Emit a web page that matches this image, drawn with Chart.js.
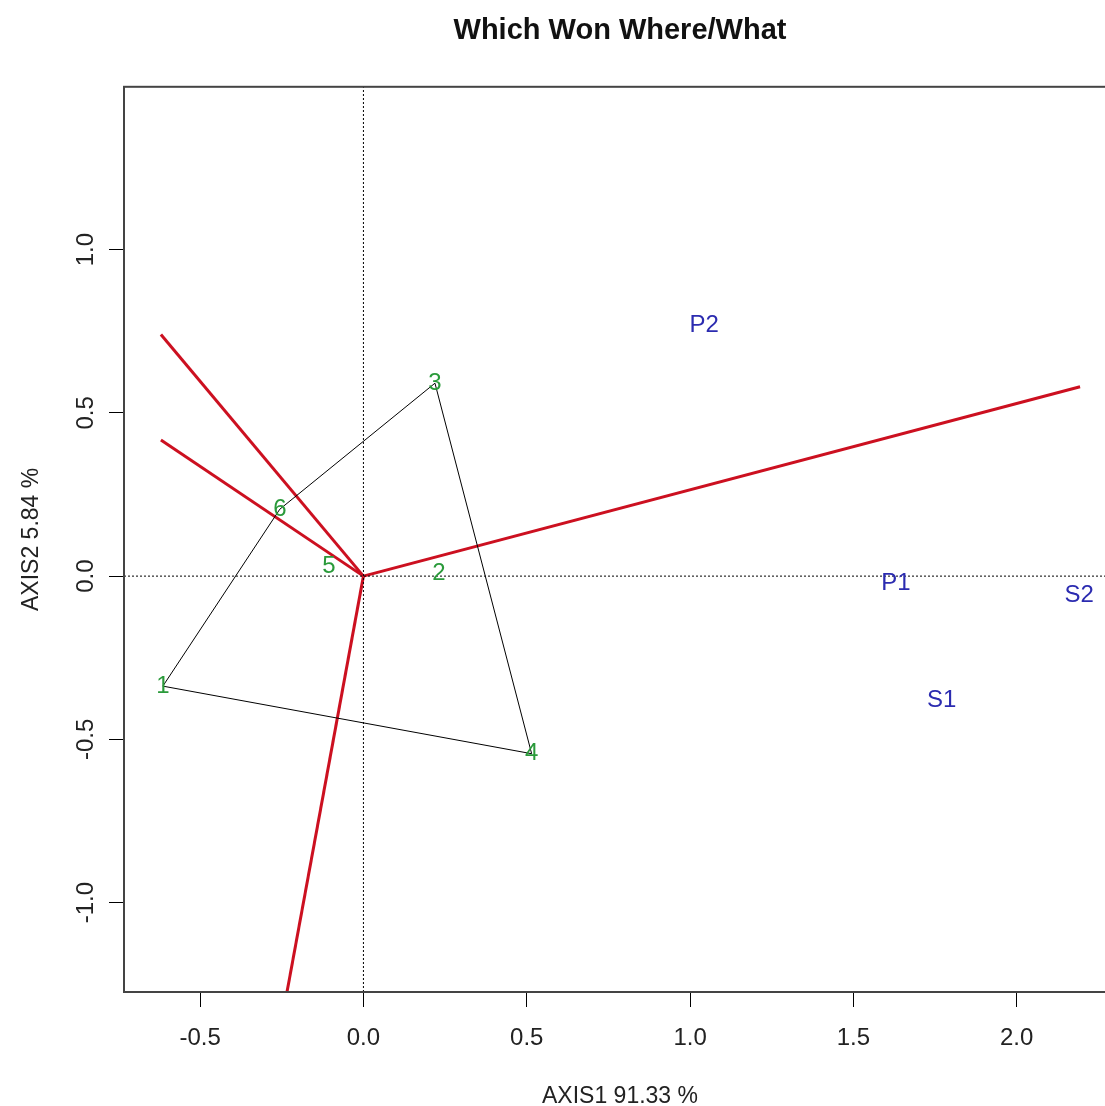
<!DOCTYPE html>
<html>
<head>
<meta charset="utf-8">
<script src="https://cdn.jsdelivr.net/npm/chart.js@4.4.1/dist/chart.umd.min.js"></script>
<style>
  html, body { margin: 0; padding: 0; background: #fff; overflow: hidden; }
</style>
</head>
<body>
<canvas id="biplot" width="1130" height="1106"></canvas>
<script>
// genotypes (green labels)
const genoNames = ["1", "2", "3", "4", "5", "6"];
const genoX = [-0.614, 0.231, 0.219, 0.515, -0.106, -0.256];
const genoY = [-0.337, 0.009, 0.591, -0.544, 0.031, 0.205];

// environments (blue labels)
const envNames = ["P1", "P2", "S1", "S2"];
const envX = [1.630, 1.043, 1.770, 2.191];
const envY = [-0.022, 0.769, -0.382, -0.060];

// polygon hull, by genotype index
const hullOrder = [2, 3, 0, 5, 2];

// rays from origin, end points
const rayX = [2.194, -0.620, -0.620, -0.234];
const rayY = [0.580, 0.740, 0.417, -1.274];

// axes
const xMin = -0.733, xMax = 2.304;
const yMin = -1.274, yMax = 1.499;
const xTicks = [-0.5, 0.0, 0.5, 1.0, 1.5, 2.0];
const yTicks = [-1.0, -0.5, 0.0, 0.5, 1.0];

const FONT = "'Liberation Sans', Arial, sans-serif";
const RED = "#cc1020";
const GREEN = "#2a9a3a";
const BLUE = "#2b2bb0";

const datasets = [];

// dotted zero lines
datasets.push({
  data: [{ x: xMin, y: 0 }, { x: xMax, y: 0 }],
  borderColor: "#000", borderWidth: 1, borderDash: [2, 2], pointRadius: 0, showLine: true
});
datasets.push({
  data: [{ x: 0, y: yMin }, { x: 0, y: yMax }],
  borderColor: "#000", borderWidth: 1, borderDash: [2, 2], pointRadius: 0, showLine: true
});

// polygon
datasets.push({
  data: hullOrder.map((i) => ({ x: genoX[i], y: genoY[i] })),
  borderColor: "#000", borderWidth: 1, pointRadius: 0, showLine: true
});

// red rays
rayX.forEach((rx, i) => {
  datasets.push({
    data: [{ x: 0, y: 0 }, { x: rx, y: rayY[i] }],
    borderColor: RED, borderWidth: 3, pointRadius: 0, showLine: true
  });
});

// label sets
datasets.push({
  data: genoX.map((x, i) => ({ x: x, y: genoY[i] })),
  pointRadius: 0, textLabels: genoNames, textColor: GREEN
});
datasets.push({
  data: envX.map((x, i) => ({ x: x, y: envY[i] })),
  pointRadius: 0, textLabels: envNames, textColor: BLUE
});

// draws text at data points
const textPlugin = {
  id: "textPlugin",
  afterDatasetsDraw(chart) {
    const ctx = chart.ctx;
    const xs = chart.scales.x, ys = chart.scales.y;
    ctx.save();
    ctx.font = "24px " + FONT;
    ctx.textAlign = "center";
    ctx.textBaseline = "middle";
    chart.data.datasets.forEach((ds) => {
      if (!ds.textLabels) return;
      ctx.fillStyle = ds.textColor;
      ds.data.forEach((p, i) => {
        ctx.fillText(ds.textLabels[i], xs.getPixelForValue(p.x), ys.getPixelForValue(p.y));
      });
    });
    ctx.restore();
  }
};

// frame round the plot region, title centred over it
const boxPlugin = {
  id: "boxPlugin",
  afterLayout(chart) {
    const t = chart.titleBlock;
    if (!t) return;
    t.left = chart.chartArea.left;
    t.right = chart.chartArea.right;
    t.width = t.right - t.left;
  },
  afterDraw(chart) {
    const a = chart.chartArea;
    const ctx = chart.ctx;
    ctx.save();
    ctx.strokeStyle = "#444";
    ctx.lineWidth = 2;
    ctx.strokeRect(a.left, a.top, a.right - a.left, a.bottom - a.top);
    ctx.restore();
  }
};

new Chart(document.getElementById("biplot"), {
  type: "scatter",
  data: { datasets: datasets },
  options: {
    responsive: false,
    animation: false,
    layout: { padding: { left: 0, right: 14, top: 0, bottom: 0 } },
    plugins: {
      legend: { display: false },
      tooltip: { enabled: false },
      title: {
        display: true,
        text: "Which Won Where/What",
        color: "#111",
        font: { family: FONT, size: 29, weight: "bold", lineHeight: 1.2 },
        padding: { top: 14, bottom: 38 }
      }
    },
    scales: {
      x: {
        type: "linear",
        min: xMin, max: xMax,
        afterBuildTicks: (s) => { s.ticks = xTicks.map((v) => ({ value: v })); },
        afterFit: (s) => { s.height = 114; },
        grid: { drawOnChartArea: false, drawTicks: true, tickLength: 15, color: "#000" },
        border: { display: false },
        ticks: {
          color: "#222", padding: 17,
          font: { family: FONT, size: 24 },
          callback: (v) => v.toFixed(1)
        },
        title: {
          display: true, text: "AXIS1 91.33 %", color: "#222",
          font: { family: FONT, size: 23, lineHeight: 1 },
          padding: { top: 0, bottom: -2 }
        }
      },
      y: {
        type: "linear",
        min: yMin, max: yMax,
        afterBuildTicks: (s) => { s.ticks = yTicks.map((v) => ({ value: v })); },
        afterFit: (s) => { s.width = 124; },
        grid: { drawOnChartArea: false, drawTicks: true, tickLength: 15, color: "#000" },
        border: { display: false },
        ticks: {
          color: "#222", padding: 2, minRotation: 90, maxRotation: 90, crossAlign: "center",
          font: { family: FONT, size: 24 },
          callback: (v) => v.toFixed(1)
        },
        title: {
          display: true, text: "AXIS2 5.84 %", color: "#222",
          font: { family: FONT, size: 23, lineHeight: 1 },
          padding: { top: 20, bottom: 0 }
        }
      }
    }
  },
  plugins: [textPlugin, boxPlugin]
});
</script>
</body>
</html>
